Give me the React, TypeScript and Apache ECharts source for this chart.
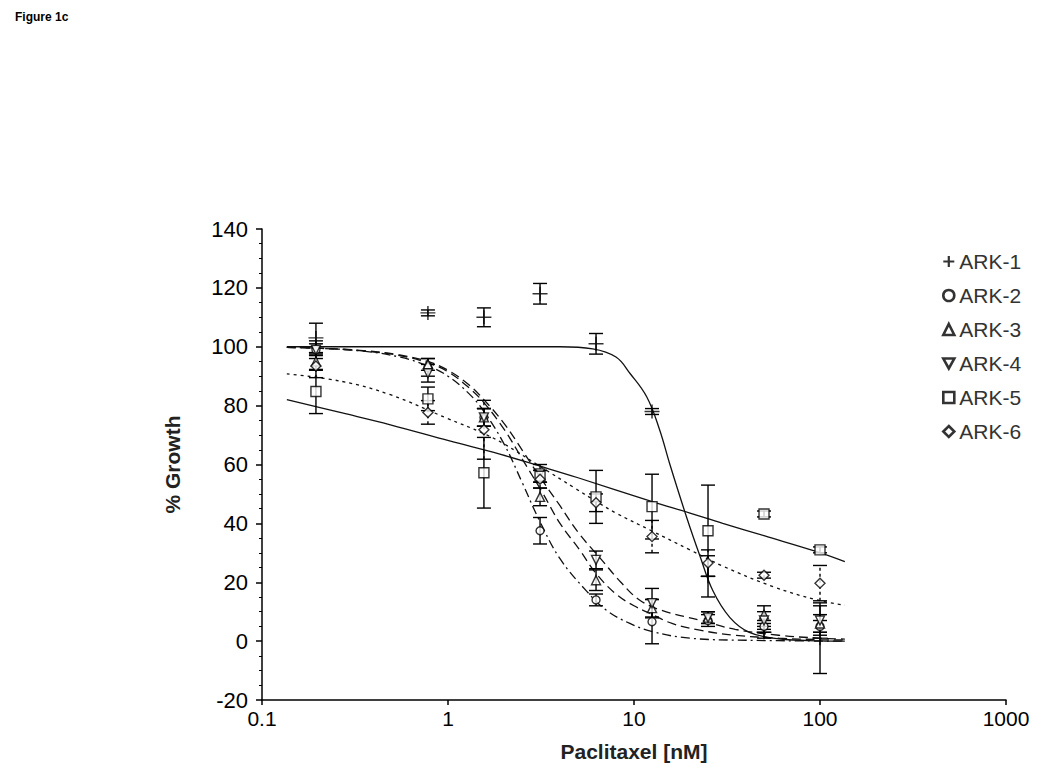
import React, { useEffect, useRef } from 'react';
import * as echarts from 'echarts';

// Concentrations (nM)
const concs = [0.195, 0.78, 1.56, 3.125, 6.25, 12.5, 25, 50, 100];
const xTickLabels = ['0.1', '1', '10', '100', '1000'];
const seriesNames = ['ARK-1', 'ARK-2', 'ARK-3', 'ARK-4', 'ARK-5', 'ARK-6'];

// Measured % growth (means) and error half-widths
const ark1Mean = [103, 111.5, 110, 118, 101, 78, 22, 3, 1];
const ark1Err = [5, 1, 3.2, 3.5, 3.5, 1, 7, 2, 12];
const ark2Mean = [99, 93, 76, 37.5, 14, 6.6, 7, 5, 5];
const ark2Err = [2, 3, 3, 4.5, 2, 7.5, 2, 2, 2];
const ark3Mean = [95, 94, 76, 49, 20.7, 11.2, 8, 9, 6];
const ark3Err = [3, 2, 3, 3, 3.5, 3, 2, 3, 3];
const ark4Mean = [99, 91, 76, 57, 27.6, 12.9, 8, 7, 7];
const ark4Err = [3, 3, 3, 3, 3, 5, 2, 3, 5];
const ark5Mean = [84.8, 82.3, 57.2, 56, 49, 45.7, 37.5, 43.2, 31];
const ark5Err = [7.5, 4, 12, 2, 9, 11, 15.5, 1, 1];
const ark6Mean = [93.5, 77.7, 71.8, 55, 47, 35.5, 26.5, 22.4, 19.7];
const ark6Err = [4, 4, 10, 3, 3, 5.5, 4.5, 1, 6];

// Fitted curves
const ark1FitX = [0.136, 0.5, 1, 2, 4, 6, 8, 9.5, 11.7, 13.7, 15.6, 19.2, 22.6, 26.6, 32.8, 41.7, 60, 100, 136];
const ark1FitY = [100, 100, 100, 100, 100, 99.3, 96.5, 91, 83, 72, 60, 42, 29, 17, 8, 3, 0.8, 0.1, 0];
const ark2FitX = [0.136, 0.2, 0.35, 0.55, 0.78, 1, 1.3, 1.56, 2, 2.5, 3.1, 4, 5.56, 7.1, 9.5, 12.6, 20, 40, 136];
const ark2FitY = [99.8, 99.5, 98.5, 96.5, 93.5, 90, 84, 78, 67, 54, 41, 28, 17, 10.5, 6, 3.2, 1, 0.3, 0];
const ark3FitX = [0.136, 0.2, 0.35, 0.55, 0.78, 1, 1.3, 1.56, 2, 2.5, 3.25, 4, 5.1, 6.25, 8, 10, 12.2, 16, 22.6, 35, 60, 100, 136];
const ark3FitY = [99.8, 99.5, 98.6, 97, 94.5, 91.5, 86, 81, 72, 62, 50, 40, 31, 23, 16, 12, 9.4, 6, 3.7, 2, 1, 0.5, 0.4];
const ark4FitX = [0.136, 0.2, 0.35, 0.55, 0.78, 1, 1.3, 1.56, 2, 2.5, 3.1, 4, 5, 6.7, 8.5, 10.7, 14, 22.6, 35, 60, 100, 136];
const ark4FitY = [99.8, 99.5, 98.7, 97.2, 95, 92, 87, 82, 74, 65, 56, 46, 37, 27.6, 20, 14, 10.5, 7.1, 4, 2, 1, 0.7];
const ark5FitX = [0.136, 0.27, 0.49, 1.02, 1.9, 3.1, 5, 12.4, 20, 30, 50, 96, 136];
const ark5FitY = [82, 77.5, 73.5, 68, 63.5, 59.5, 55.5, 47.5, 43.5, 40, 35.8, 30.4, 27];
const ark6FitX = [0.136, 0.27, 0.49, 0.98, 1.56, 2, 3.1, 4.8, 6.25, 8, 12.4, 20, 30, 56, 96, 136];
const ark6FitY = [90.8, 88.2, 83.7, 75.8, 70.5, 67, 59.5, 52, 47.5, 43.5, 37.5, 31, 25.5, 18.5, 14, 12.2];

const FONT = 'Arial, "Liberation Sans", Helvetica, sans-serif';
const PLUS = 'path://M6.3,0H7.7V6.3H14V7.7H7.7V14H6.3V7.7H0V6.3H6.3Z';
const PLUS_BOLD = 'path://M5.6,0H8.4V5.6H14V8.4H8.4V14H5.6V8.4H0V5.6H5.6Z';
const DOWN_TRI = 'path://M0,0L10,0L5,9Z';

export default function App() {
  const ref = useRef<HTMLDivElement>(null);
  useEffect(() => {
    const chart = echarts.init(ref.current!, null, { renderer: 'svg' });

    const means = [ark1Mean, ark2Mean, ark3Mean, ark4Mean, ark5Mean, ark6Mean];
    const errs = [ark1Err, ark2Err, ark3Err, ark4Err, ark5Err, ark6Err];
    const fits: [number[], number[]][] = [
      [ark1FitX, ark1FitY], [ark2FitX, ark2FitY], [ark3FitX, ark3FitY],
      [ark4FitX, ark4FitY], [ark5FitX, ark5FitY], [ark6FitX, ark6FitY],
    ];
    const lineTypes: any[] = ['solid', [9, 4, 2, 4], [9, 5], [9, 5], 'solid', [3, 4]];
    const symbols = [PLUS, 'circle', 'triangle', DOWN_TRI, 'rect', 'diamond'];
    const legendIcons = [PLUS_BOLD, 'circle', 'triangle', DOWN_TRI, 'rect', 'diamond'];
    const symbolSizes: any[] = [[15, 14], 8, 9, 9, 10, 10];
    const errDash = [false, false, false, false, false, true];

    const makeErrRender = (dashed: boolean) => (params: any, api: any) => {
      const x = api.value(0);
      const lo = api.coord([x, api.value(1)]);
      const hi = api.coord([x, api.value(2)]);
      const w = 7;
      const style: any = { stroke: '#000', lineWidth: 1.4, fill: 'none' };
      if (dashed) style.lineDash = [3, 3];
      const cap: any = { stroke: '#000', lineWidth: 1.4, fill: 'none' };
      return {
        type: 'group',
        children: [
          { type: 'line', shape: { x1: lo[0], y1: lo[1], x2: hi[0], y2: hi[1] }, style },
          { type: 'line', shape: { x1: lo[0] - w, y1: lo[1], x2: lo[0] + w, y2: lo[1] }, style: cap },
          { type: 'line', shape: { x1: hi[0] - w, y1: hi[1], x2: hi[0] + w, y2: hi[1] }, style: cap },
        ],
      };
    };

    const series: any[] = [];
    seriesNames.forEach((name, i) => {
      series.push({
        name: name + ' fit',
        type: 'line',
        data: fits[i][0].map((x, j) => [x, fits[i][1][j]]),
        showSymbol: false,
        smooth: 0.4,
        lineStyle: { color: '#111', width: 1.3, type: lineTypes[i] },
        z: 1,
        silent: true,
      });
      series.push({
        name: name + ' err',
        type: 'custom',
        renderItem: makeErrRender(errDash[i]),
        encode: { x: 0, y: [1, 2] },
        data: concs.map((c, j) => [c, means[i][j] - errs[i][j], means[i][j] + errs[i][j]]),
        z: 2,
        silent: true,
      });
      series.push({
        name,
        type: 'scatter',
        data: concs.map((c, j) => [c, means[i][j]]),
        symbol: symbols[i],
        symbolSize: symbolSizes[i],
        itemStyle: i === 0
          ? { color: '#000' }
          : { color: '#fff', borderColor: '#000', borderWidth: 1.4 },
        z: 3,
      });
    });

    chart.setOption({
      animation: false,
      backgroundColor: '#fff',
      title: {
        text: 'Figure 1c',
        left: 10,
        top: 6,
        textStyle: { fontFamily: FONT, fontSize: 12, fontWeight: 'bold', color: '#000' },
      },
      legend: {
        data: seriesNames.map((n, i) => ({
          name: n,
          icon: legendIcons[i],
          itemStyle: i === 0
            ? { color: '#000', borderWidth: 0 }
            : { color: '#fff', borderColor: '#000', borderWidth: 2.6 },
        })),
        orient: 'vertical',
        left: 937,
        top: 246,
        itemGap: 13,
        itemWidth: 11,
        itemHeight: 11,
        textStyle: { fontFamily: FONT, fontSize: 21, color: '#333' },
      },
      grid: { left: 262, right: 44, top: 229, bottom: 78, containLabel: false },
      xAxis: {
        type: 'log',
        logBase: 10,
        min: 0.1,
        max: 1000,
        name: 'Paclitaxel [nM]',
        nameLocation: 'middle',
        nameGap: 41,
        nameTextStyle: { fontFamily: FONT, fontSize: 21, fontWeight: 'bold', color: '#222' },
        axisLine: { onZero: false, lineStyle: { color: '#000', width: 1.5 } },
        axisTick: { show: true, length: 5, lineStyle: { color: '#000', width: 1.5 } },
        minorTick: { show: false },
        splitLine: { show: false },
        axisLabel: {
          fontFamily: FONT,
          fontSize: 21,
          color: '#000',
          margin: 8,
          formatter: (v: number) => xTickLabels[Math.round(Math.log10(v)) + 1] ?? '',
        },
      },
      yAxis: {
        type: 'value',
        min: -20,
        max: 140,
        interval: 20,
        name: '% Growth',
        nameLocation: 'middle',
        nameGap: 79,
        nameTextStyle: { fontFamily: FONT, fontSize: 21, fontWeight: 'bold', color: '#222' },
        axisLine: { show: true, onZero: false, lineStyle: { color: '#000', width: 1.5 } },
        axisTick: { show: true, length: 6, lineStyle: { color: '#000', width: 1.5 } },
        minorTick: { show: true, splitNumber: 4, length: 3, lineStyle: { color: '#000', width: 1 } },
        splitLine: { show: false },
        axisLabel: { fontFamily: FONT, fontSize: 22, color: '#000', margin: 14 },
      },
      series,
    });
    return () => chart.dispose();
  }, []);
  return (
    <div
      ref={ref}
      style={{ position: 'absolute', left: 0, top: 0, width: 1050, height: 778, background: '#fff' }}
    />
  );
}
